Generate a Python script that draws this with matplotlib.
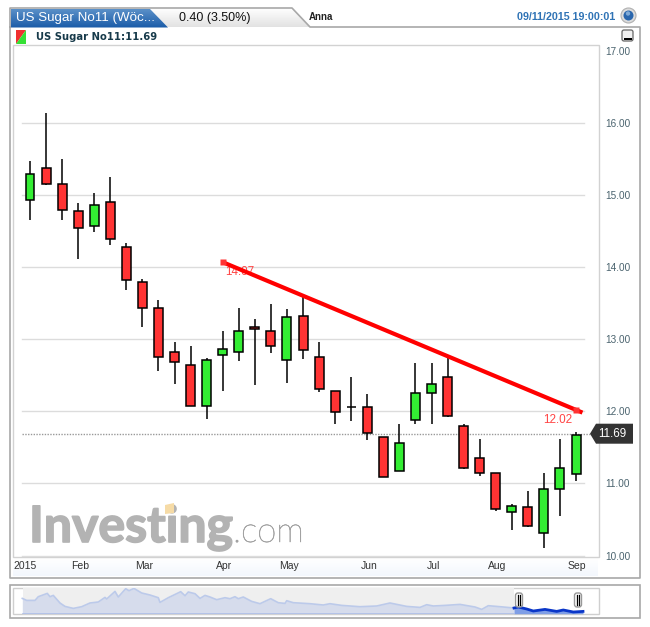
import numpy as np
import matplotlib
matplotlib.use('Agg')
import matplotlib.pyplot as plt
import matplotlib.patheffects as pe
from matplotlib.patches import Polygon, Rectangle, FancyBboxPatch, Circle
from matplotlib.colors import LinearSegmentedColormap

plt.rcParams['font.family'] = ['Liberation Sans', 'DejaVu Sans']

# velas semanales
opens = [14.93, 15.37, 15.15, 14.78, 14.57, 14.90, 14.28, 13.80, 13.43, 12.82, 12.65, 12.07,
         12.78, 12.83, 13.17, 13.12, 12.71, 13.32, 12.76, 12.28, 12.06, 12.06, 11.64, 11.17,
         11.88, 12.26, 12.47, 11.79, 11.35, 11.15, 10.60, 10.67, 10.31, 10.92, 11.13]
closes = [15.29, 15.15, 14.79, 14.55, 14.86, 14.39, 13.82, 13.43, 12.76, 12.69, 12.08, 12.71,
          12.86, 13.12, 13.14, 12.90, 13.31, 12.85, 12.31, 11.99, 12.06, 11.70, 11.09, 11.56,
          12.26, 12.38, 11.93, 11.22, 11.14, 10.64, 10.68, 10.41, 10.92, 11.21, 11.67]
highs = [15.48, 16.14, 15.50, 14.89, 15.03, 15.25, 14.33, 13.84, 13.54, 12.96, 12.90, 12.74,
         13.11, 13.44, 13.28, 13.49, 13.42, 13.58, 12.96, 12.28, 12.48, 12.24, 11.64, 11.83,
         12.67, 12.67, 12.74, 11.82, 11.61, 11.15, 10.71, 10.90, 11.15, 11.61, 11.71]
lows = [14.66, 15.14, 14.66, 14.12, 14.49, 14.31, 13.69, 13.17, 12.56, 12.38, 12.08, 11.90,
        12.28, 12.70, 12.36, 12.81, 12.40, 12.73, 12.27, 11.83, 11.86, 11.60, 11.09, 11.17,
        11.82, 11.83, 11.92, 11.20, 11.11, 10.62, 10.36, 10.39, 10.11, 10.55, 11.04]

price_ticks = [10, 11, 12, 13, 14, 15, 16, 17]
month_pos = [-0.28, 3.1, 7.1, 12.1, 16.1, 21.1, 25.1, 29.1, 34.05]
month_labels = ['2015', 'Feb', 'Mar', 'Apr', 'May', 'Jun', 'Jul', 'Aug', 'Sep']
last_price = 11.69
trend_x = [12, 34]
trend_y = [14.07, 12.02]

# navegador inferior
nav_x = [22.3, 26.7, 35, 38.3, 47.3, 50, 53.3, 60, 65, 73.3, 81.7, 90, 98.3, 105, 106.7, 115, 118.3,
         125.7, 129, 134, 141.7, 150, 158.3, 160, 168.3, 180.7, 185, 188.3, 195, 200, 205, 210, 216.7,
         225, 230, 235, 238.3, 243.3, 251.7, 260, 270.7, 278.3, 285, 286.7, 293.3, 310, 323.3, 330,
         341.7, 360, 376.7, 390, 406.7, 420, 426.7, 433.3, 445, 460, 475, 481.7, 488.3, 500, 514,
         518.3, 526.7, 533.3, 545, 556.7, 563.3, 573.3, 583]
nav_y = [15.3, 13.3, 13.3, 17, 20.3, 17, 18.3, 10.7, 7.3, 5.3, 7, 10.7, 11.7, 16.3, 14.7, 22.3, 16.7,
         25, 23, 25.3, 20.7, 18.7, 16, 11.3, 16, 22, 18, 21.7, 20, 15.3, 18.3, 16.7, 14,
         16, 15, 17, 15, 16.7, 12.3, 10, 15, 11, 10.3, 13, 11, 10, 8.7, 10,
         8.3, 7, 7.7, 10.7, 7.3, 6.3, 9, 7.7, 8.3, 9.3, 6.7, 4.3, 8, 7, 5.7,
         6.7, 4.7, 2.7, 4.3, 2.3, 3.7, 1.7, 2.3]
nav_sel = 514

W, H = 650, 627
RED, GREEN = '#ff3333', '#33ee33'
fig = plt.figure(figsize=(W / 100, H / 100), dpi=100, facecolor='white')


def axes_px(left, top, right, bottom, **kw):
    return fig.add_axes([left / W, 1 - bottom / H, (right - left) / W, (bottom - top) / H], **kw)


bg = axes_px(0, 0, W, H, zorder=0)
bg.set_xlim(0, W)
bg.set_ylim(H, 0)
bg.axis('off')


def grad(x0, x1, y0, y1, colors, vertical=True, clip=None):
    cmap = LinearSegmentedColormap.from_list('g', colors)
    g = np.linspace(0, 1, 64)
    g = g[:, None] if vertical else g[None, :]
    im = bg.imshow(g, cmap=cmap, extent=[x0, x1, y1, y0], origin='upper', aspect='auto', zorder=1)
    if clip is not None:
        im.set_clip_path(clip)
    bg.set_xlim(0, W)
    bg.set_ylim(H, 0)


# marco y pestanas
tab = Polygon([(10.5, 8), (292, 8), (310, 27), (10.5, 27)], closed=True, fc='none', ec='none', transform=bg.transData)
bg.add_patch(tab)
grad(10, 311, 8, 27, ['#ffffff', '#e2e2e2'], clip=tab)
blue = Polygon([(11, 9), (150, 9), (168, 27.5), (11, 27.5)], closed=True, fc='none', ec='none')
bg.add_patch(blue)
grad(11, 168, 9, 28, ['#5a90c8', '#1a5ba8'], clip=blue)
bg.plot([10, 10, 292, 310, 640, 640, 10, 10], [27, 8, 8, 27, 27, 578, 578, 27], color='#a8a8a8', lw=1.2, zorder=2)
bg.add_patch(Rectangle((12.5, 45), 586, 512, fc='white', ec='#d2d2d2', lw=1, zorder=1.5))
grad(22, 584, 51, 58, ['#f2f2f2', '#ffffff'])
grad(22, 30, 58, 556, ['#f3f3f3', '#ffffff'], vertical=False)
grad(22, 584, 546, 556.5, ['#ffffff', '#f8f8f8'])
grad(13, 598, 558, 576, ['#ffffff', '#f3f7fd'])

# icono de la leyenda
bg.add_patch(Polygon([(16, 30), (26, 30), (16, 44)], fc='#f03030', ec='none', zorder=3))
bg.add_patch(Polygon([(26, 30), (26, 44), (16, 44)], fc='#35e035', ec='none', zorder=3))
bg.text(36, 36.5, 'US Sugar No11:11.69', fontsize=7.2, fontweight='bold', family='DejaVu Sans',
        color='#173a4a', va='center', zorder=3)

# watermark
bg.text(29, 542, 'Investing', fontsize=36, fontweight='bold', family='Lato', color='#b3b3b3', va='baseline', zorder=1.8,
        path_effects=[pe.withStroke(linewidth=1.2, foreground='#b3b3b3')])
bg.text(233, 542, '.com', fontsize=25, fontweight='light', family='Lato', color='#a2a2a2', va='baseline', zorder=1.8,
        path_effects=[pe.withStroke(linewidth=0.4, foreground='#a2a2a2')])
bg.add_patch(Polygon([(165, 505), (174, 503), (174, 513), (165, 514)], fc='#f6dba6', ec='none', zorder=1.9))

# textos de cabecera
bg.text(16, 17.5, 'US Sugar No11 (Wöc...', fontsize=9.6, color='white', va='center', zorder=3)
bg.text(179, 17.5, '0.40 (3.50%)', fontsize=9, color='#111111', va='center', zorder=3)
bg.text(309, 17.5, 'Anna', fontsize=7, fontweight='bold', color='#222222', va='center', zorder=3)
bg.text(517, 17.5, '09/11/2015 19:00:01', fontsize=7.7, fontweight='bold', color='#2f73b5', va='center', zorder=3)
bg.add_patch(Circle((628.5, 15.5), 7.5, fc='#dcdcdc', ec='#b0b0b0', lw=0.8, zorder=3))
bg.add_patch(Circle((628.5, 15.5), 5, fc='#2a66ad', ec='none', zorder=3.1))
bg.add_patch(Circle((628, 13.5), 2.2, fc='#7fa9d6', ec='none', zorder=3.2))
bg.add_patch(FancyBboxPatch((622, 30), 11, 11, boxstyle='round,pad=0,rounding_size=2', fc='#f0f0f0', ec='#666666', lw=0.9, zorder=3))
bg.add_patch(Rectangle((624, 38), 8, 2, fc='black', ec='none', zorder=3.1))

# panel del navegador
bg.add_patch(Rectangle((10, 585), 630, 33, fc='white', ec='#a8a8a8', lw=1.2, zorder=1))
bg.add_patch(Rectangle((12.5, 587.5), 586, 26, fc='white', ec='#cfcfcf', lw=1, zorder=1.1))
bg.add_patch(Rectangle((23, 588), nav_sel - 23, 25.5, fc='#efefef', ec='none', zorder=1.2))

# grafico principal
ax = axes_px(12.5, 45, 598.5, 557, zorder=2)
ax.patch.set_visible(False)
PX_X = 16.06
PX_Y = 72.07
ax.set_xlim((12.5 - 30) / PX_X, (598.5 - 30) / PX_X)
ax.set_ylim(10 + (555.5 - 557) / PX_Y, 10 + (555.5 - 45) / PX_Y)
for s in ax.spines.values():
    s.set_visible(False)

xs = np.arange(len(opens))
frac0, frac1 = (22 - 12.5) / 586, (584 - 12.5) / 586
for p in price_ticks[:-1]:
    ax.axhline(p, frac0, frac1, color='#dcdcdc', lw=1, zorder=1)
ax.axhline(last_price, frac0, (590 - 12.5) / 586, color='#999999', lw=1, ls=(0, (1, 1)), zorder=1)

ax.vlines(xs, lows, highs, color='black', lw=1.1, zorder=2)
colors = [GREEN if c >= o else RED for o, c in zip(opens, closes)]
bottoms = np.minimum(opens, closes)
heights = np.abs(np.array(closes) - np.array(opens))
ax.bar(xs, heights, bottom=bottoms, width=0.56, color=colors, edgecolor='black', linewidth=1.1, zorder=3)

# linea de tendencia
slope = (trend_y[1] - trend_y[0]) / (trend_x[1] - trend_x[0])
ax.plot([trend_x[0], trend_x[1] + 0.4], [trend_y[0], trend_y[1] + 0.4 * slope], color='#ff0000', lw=3,
        solid_capstyle='butt', zorder=4)
ax.plot(trend_x, trend_y, 's', color='#ff3333', ms=5, mec='none', zorder=4)
ax.annotate('14.07', (trend_x[0], trend_y[0]), xytext=(1.5, -9), textcoords='offset points', fontsize=8.4,
            color='#ff4444', zorder=3.5)
ax.annotate('12.02', (trend_x[1], trend_y[1]), xytext=(-24, -9.5), textcoords='offset points', fontsize=8.4,
            color='#ff4444', ha='left', zorder=5)

ax.yaxis.tick_right()
ax.set_yticks(price_ticks)
ax.set_yticklabels(['%.2f' % p for p in price_ticks])
ax.tick_params(axis='y', length=0, pad=5.2, labelsize=7.2, labelcolor='#4a636e')
ax.set_xticks(month_pos)
ax.set_xticklabels(month_labels)
ax.tick_params(axis='x', length=0, pad=3, labelsize=7.5, labelcolor='#333333')

# etiqueta del ultimo precio
top = axes_px(0, 0, W, H, zorder=3)
top.set_xlim(0, W)
top.set_ylim(H, 0)
top.axis('off')
tag_y = 555.5 - (last_price - 10) * PX_Y
top.add_patch(Polygon([(590, tag_y), (596, tag_y - 10), (633, tag_y - 10), (633, tag_y + 10), (596, tag_y + 10)],
                      fc='#333333', ec='none'))
top.text(612.5, tag_y, '%.2f' % last_price, color='white', fontsize=8.4, ha='center', va='center')

# navegador
nav = axes_px(12.5, 587.7, 598.5, 613.7, zorder=2)
nav.patch.set_visible(False)
nav.axis('off')
nav.set_xlim(12.5, 598.5)
nav.set_ylim(0, 26)
nx, ny = np.array(nav_x), np.array(nav_y)
nav.fill_between(nx, 0, ny, where=nx <= nav_sel, color='#d6dcec', lw=0, interpolate=True)
nav.plot(nx[nx <= nav_sel], ny[nx <= nav_sel], color='#bccaea', lw=1.2)
nav.axhline(0.2, (23 - 12.5) / 586, (nav_sel - 12.5) / 586, color='#aebfe8', lw=1.2)
m = nx >= nav_sel
nav.fill_between(nx[m], 0, ny[m], color='#7f9ee6', lw=0)
nav.plot(nx[m], ny[m], color='#0a36c8', lw=2, clip_on=False)
for hx in [nav_sel + 5, 578]:
    top.add_patch(FancyBboxPatch((hx - 3.5, 593), 7, 14, boxstyle='round,pad=0,rounding_size=2.5',
                                 fc='white', ec='#999999', lw=1))
    top.plot([hx - 1, hx - 1], [595, 605], color='black', lw=0.9)
    top.plot([hx + 1, hx + 1], [595, 605], color='black', lw=0.9)

fig.savefig('out.png', dpi=100)
